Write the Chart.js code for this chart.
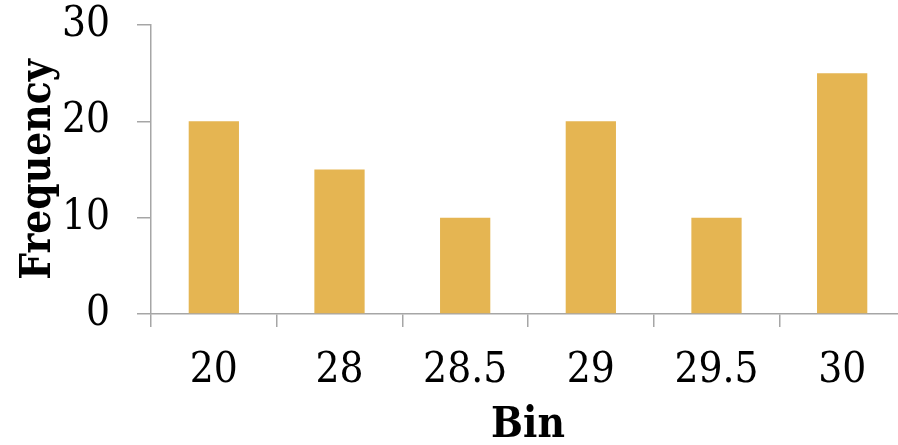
<!DOCTYPE html>
<html>
<head>
<meta charset="utf-8">
<script src="https://cdn.jsdelivr.net/npm/chart.js@4/dist/chart.umd.min.js"></script>
<style>
  html, body { margin: 0; padding: 0; background: #ffffff; overflow: hidden; }
  #wrap { position: absolute; left: 0; top: 0; width: 906px; height: 445px; }
</style>
</head>
<body>
<div id="wrap"><canvas id="chart" width="906" height="445"></canvas></div>
<script>
// Histogram bins and their counts
const bins = ['20', '28', '28.5', '29', '29.5', '30'];
const frequency = [20, 15, 10, 20, 10, 25];
const yTicks = [0, 10, 20, 30];

const FONT = "'DejaVu Serif Condensed', 'DejaVu Serif', serif";
const AXIS = '#a6a6a6';

new Chart(document.getElementById('chart'), {
  type: 'bar',
  data: {
    labels: bins,
    datasets: [{
      data: frequency,
      backgroundColor: '#e5b552',
      borderWidth: 0,
      barPercentage: 0.4,
      categoryPercentage: 1.0
    }]
  },
  options: {
    responsive: false,
    animation: false,
    layout: { padding: { top: 25, left: 0, right: 1, bottom: 0 } },
    plugins: { legend: { display: false }, tooltip: { enabled: false } },
    scales: {
      x: {
        offset: true,
        grid: {
          display: true, offset: true, drawOnChartArea: false,
          drawTicks: true, tickLength: 13, color: AXIS, lineWidth: 1.5
        },
        border: { display: true, color: AXIS, width: 1.5 },
        ticks: { color: '#000', font: { family: FONT, size: 42 }, padding: 19, maxRotation: 0 },
        title: {
          display: true, text: 'Bin', color: '#000',
          font: { family: FONT, size: 42, weight: 'bold', lineHeight: 1 },
          padding: { top: 0, bottom: -2 }
        },
        afterFit: s => { s.height = 131; s.paddingLeft = 0; s.paddingRight = 0; }
      },
      y: {
        min: 0, max: 30,
        afterBuildTicks: s => { s.ticks = yTicks.map(v => ({ value: v })); },
        grid: {
          display: true, drawOnChartArea: false, drawTicks: true,
          tickLength: 14, color: AXIS, lineWidth: 1.5
        },
        border: { display: true, color: AXIS, width: 1.5 },
        ticks: { color: '#000', font: { family: FONT, size: 42 }, padding: 27 },
        title: {
          display: true, text: 'Frequency', color: '#000',
          font: { family: FONT, size: 42, weight: 'bold', lineHeight: 1 },
          padding: { top: 18, bottom: 0 }
        },
        afterFit: s => { s.width = 151; s.paddingTop = 0; s.paddingBottom = 0; }
      }
    }
  }
});
</script>
</body>
</html>
